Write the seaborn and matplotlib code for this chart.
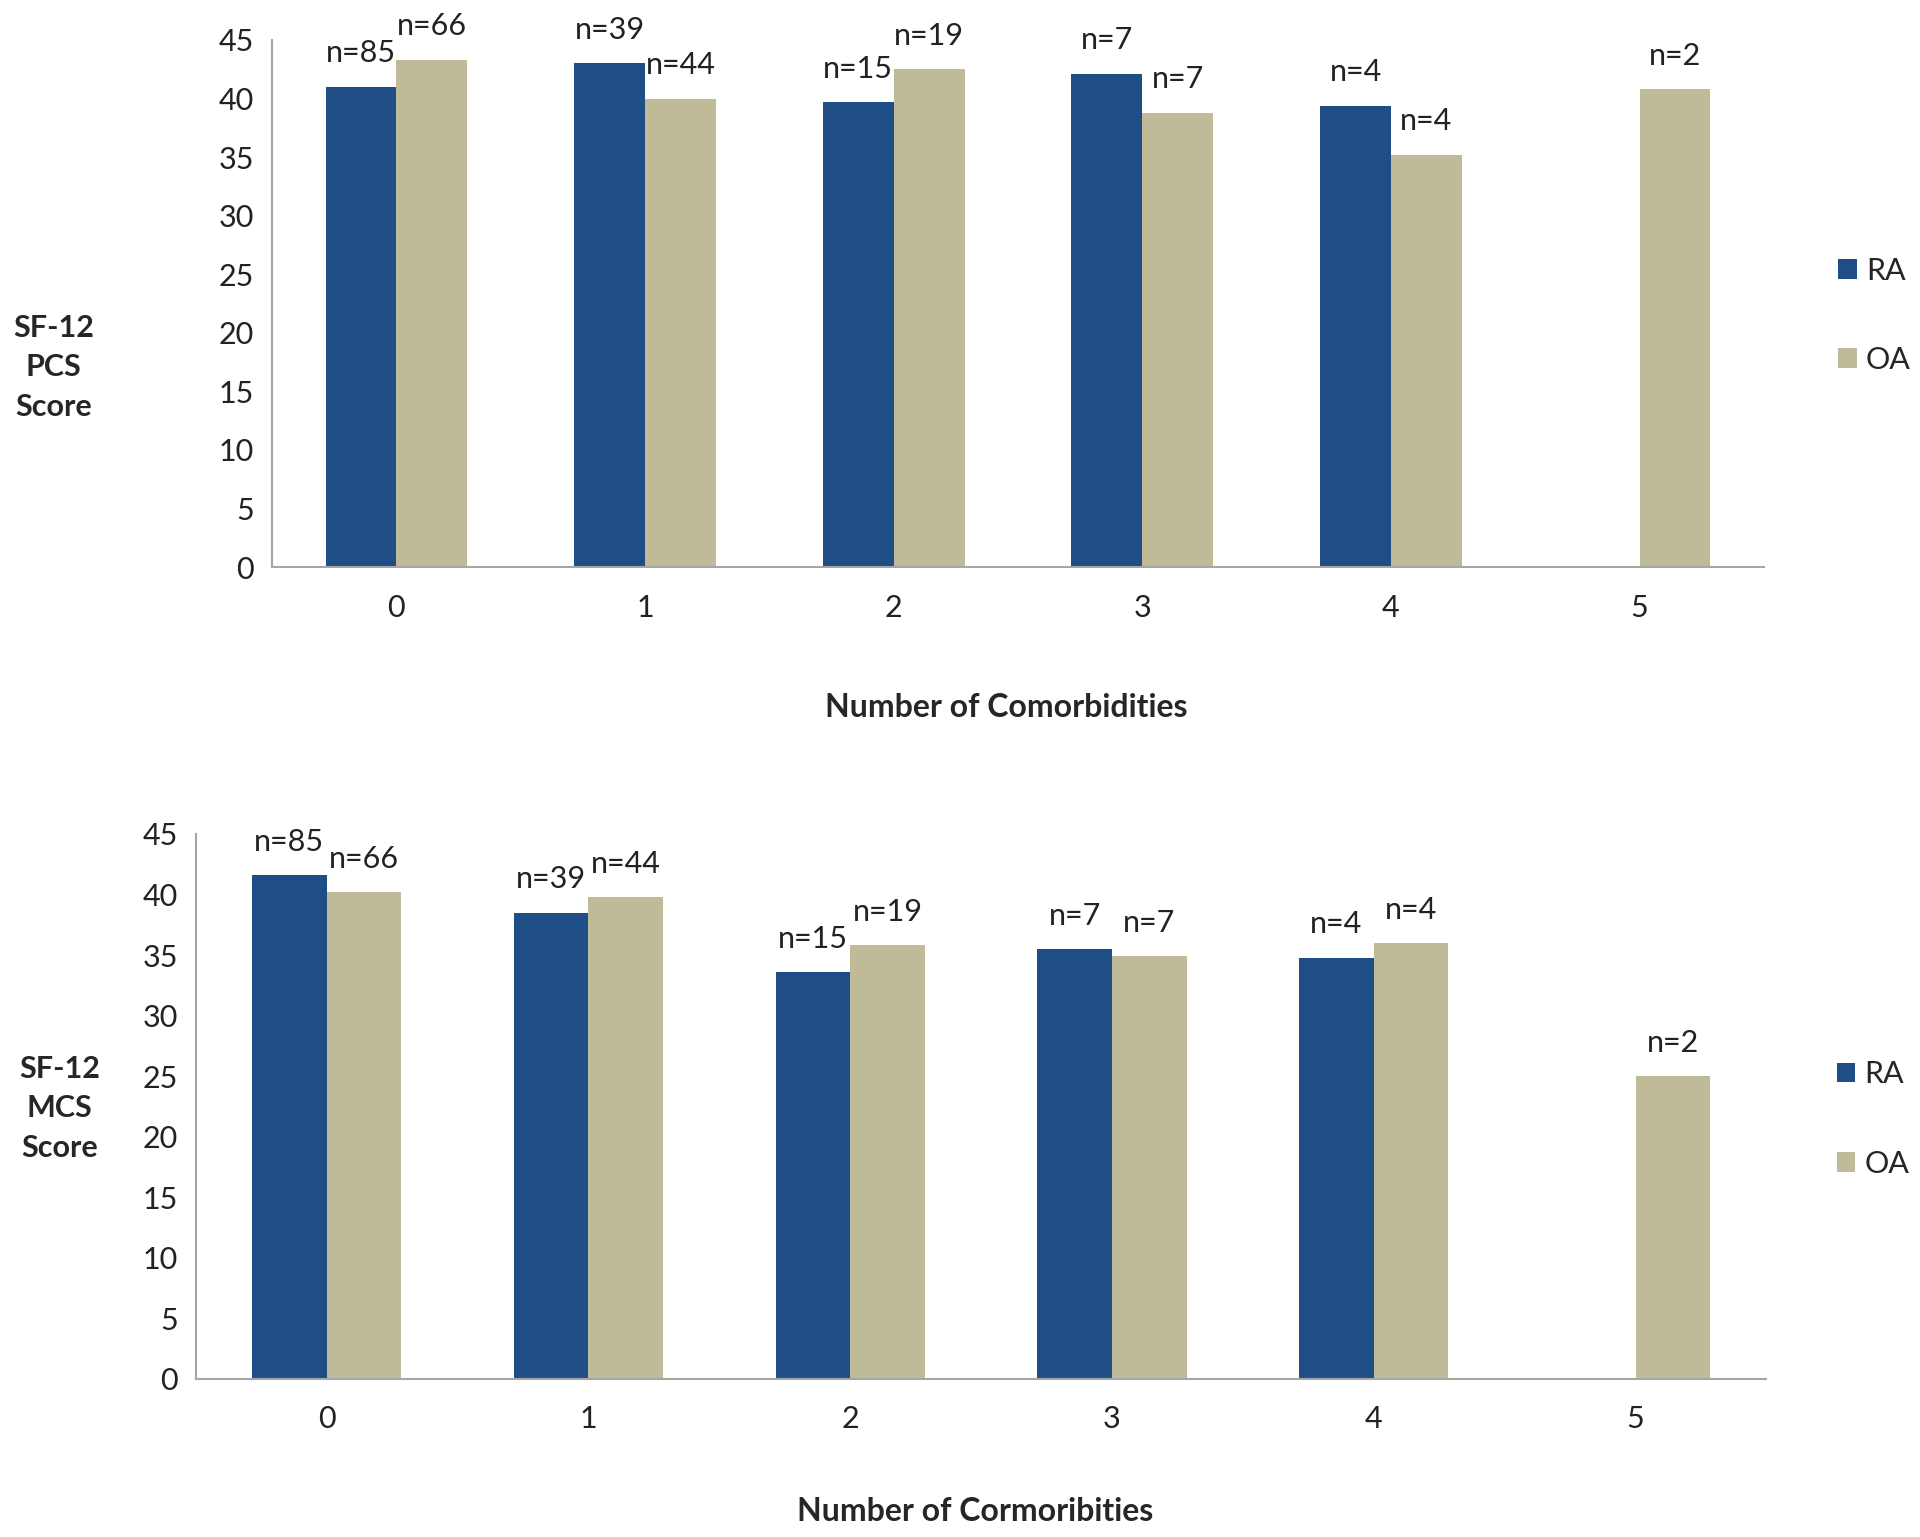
import matplotlib
matplotlib.use("Agg")
import matplotlib.pyplot as plt
import seaborn as sns
import numpy as np
import pandas as pd

# values
categories = ["0", "1", "2", "3", "4", "5"]
groups = ["RA", "OA"]

pcs_ra = [41.0, 43.0, 39.7, 42.1, 39.4, np.nan]
pcs_oa = [43.3, 40.0, 42.5, 38.8, 35.2, 40.8]
mcs_ra = [41.6, 38.5, 33.6, 35.5, 34.8, np.nan]
mcs_oa = [40.2, 39.8, 35.8, 34.9, 36.0, 25.0]

n_ra = [85, 39, 15, 7, 4, np.nan]
n_oa = [66, 44, 19, 7, 4, 2]

y_ticks = [0, 5, 10, 15, 20, 25, 30, 35, 40, 45]

colors = {"RA": "#1f4e87", "OA": "#bfbb98"}
grey = "#a6a6a6"
fs = 22


def long_frame(ra, oa):
    df = pd.DataFrame({
        "comorb": categories * 2,
        "group": ["RA"] * len(categories) + ["OA"] * len(categories),
        "score": list(ra) + list(oa),
        "n": list(n_ra) + list(n_oa),
    })
    return df.dropna(subset=["score"]).reset_index(drop=True)


sns.set_style("white")
plt.rcParams["font.family"] = ["Lato", "DejaVu Sans"]

fig = plt.figure(figsize=(19.2, 15.37), dpi=100)
ax_top = fig.add_axes([0.1417, 0.631, 0.777, 0.343])
ax_bot = fig.add_axes([0.102, 0.1028, 0.818, 0.3546])

panels = [
    (ax_top, long_frame(pcs_ra, pcs_oa), "SF-12\nPCS\nScore", (0.028, 0.761),
     "Number of Comorbidities", (0.524, 0.540), (1.05, 0.478)),
    (ax_bot, long_frame(mcs_ra, mcs_oa), "SF-12\nMCS\nScore", (0.031, 0.279),
     "Number of Cormoribities", (0.508, 0.0163), (1.045, 0.477)),
]

for ax, df, ylab, ylab_pos, xlab, xlab_pos, leg_pos in panels:
    sns.barplot(data=df, x="comorb", y="score", hue="group", order=categories,
                hue_order=groups, palette=colors, width=0.57, errorbar=None,
                saturation=1, linewidth=0, ax=ax)

    # n labels above the bars
    for cont, grp in zip(ax.containers, groups):
        sub = df[df["group"] == grp]
        ax.bar_label(cont, labels=[f"n={int(v)}" for v in sub["n"]],
                     padding=14, fontsize=fs, color="#222222")

    ax.set_ylim(0, 45)
    ax.set_xlim(-0.5, 5.5)
    ax.set_yticks(y_ticks)
    ax.set_xlabel("")
    ax.set_ylabel("")

    # Excel style: tick marks between categories, labels centred
    ax.set_xticks(np.arange(-0.5, 6.0, 1.0), minor=True)
    ax.tick_params(axis="x", which="major", length=0, pad=19, labelsize=fs,
                   labelcolor="#222222")
    ax.tick_params(axis="x", which="minor", length=10, width=1.2, color=grey,
                   direction="out")
    ax.tick_params(axis="y", length=7, width=1.2, color=grey, direction="out",
                   labelsize=fs, labelcolor="#222222", pad=6)

    sns.despine(ax=ax)
    for side in ["left", "bottom"]:
        ax.spines[side].set_color(grey)
        ax.spines[side].set_linewidth(1.5)

    fig.text(ylab_pos[0], ylab_pos[1], ylab, ha="center", va="center",
             fontsize=fs, fontweight="bold", linespacing=1.5)
    fig.text(xlab_pos[0], xlab_pos[1], xlab, ha="center", va="center",
             fontsize=fs + 1, fontweight="bold")

    ax.legend(loc="center left", bbox_to_anchor=leg_pos, frameon=False,
              fontsize=fs, handlelength=0.6, handleheight=0.6,
              handletextpad=0.3, labelspacing=2.0, borderaxespad=0,
              borderpad=0)

fig.savefig("out.png", dpi=100, facecolor="white")
